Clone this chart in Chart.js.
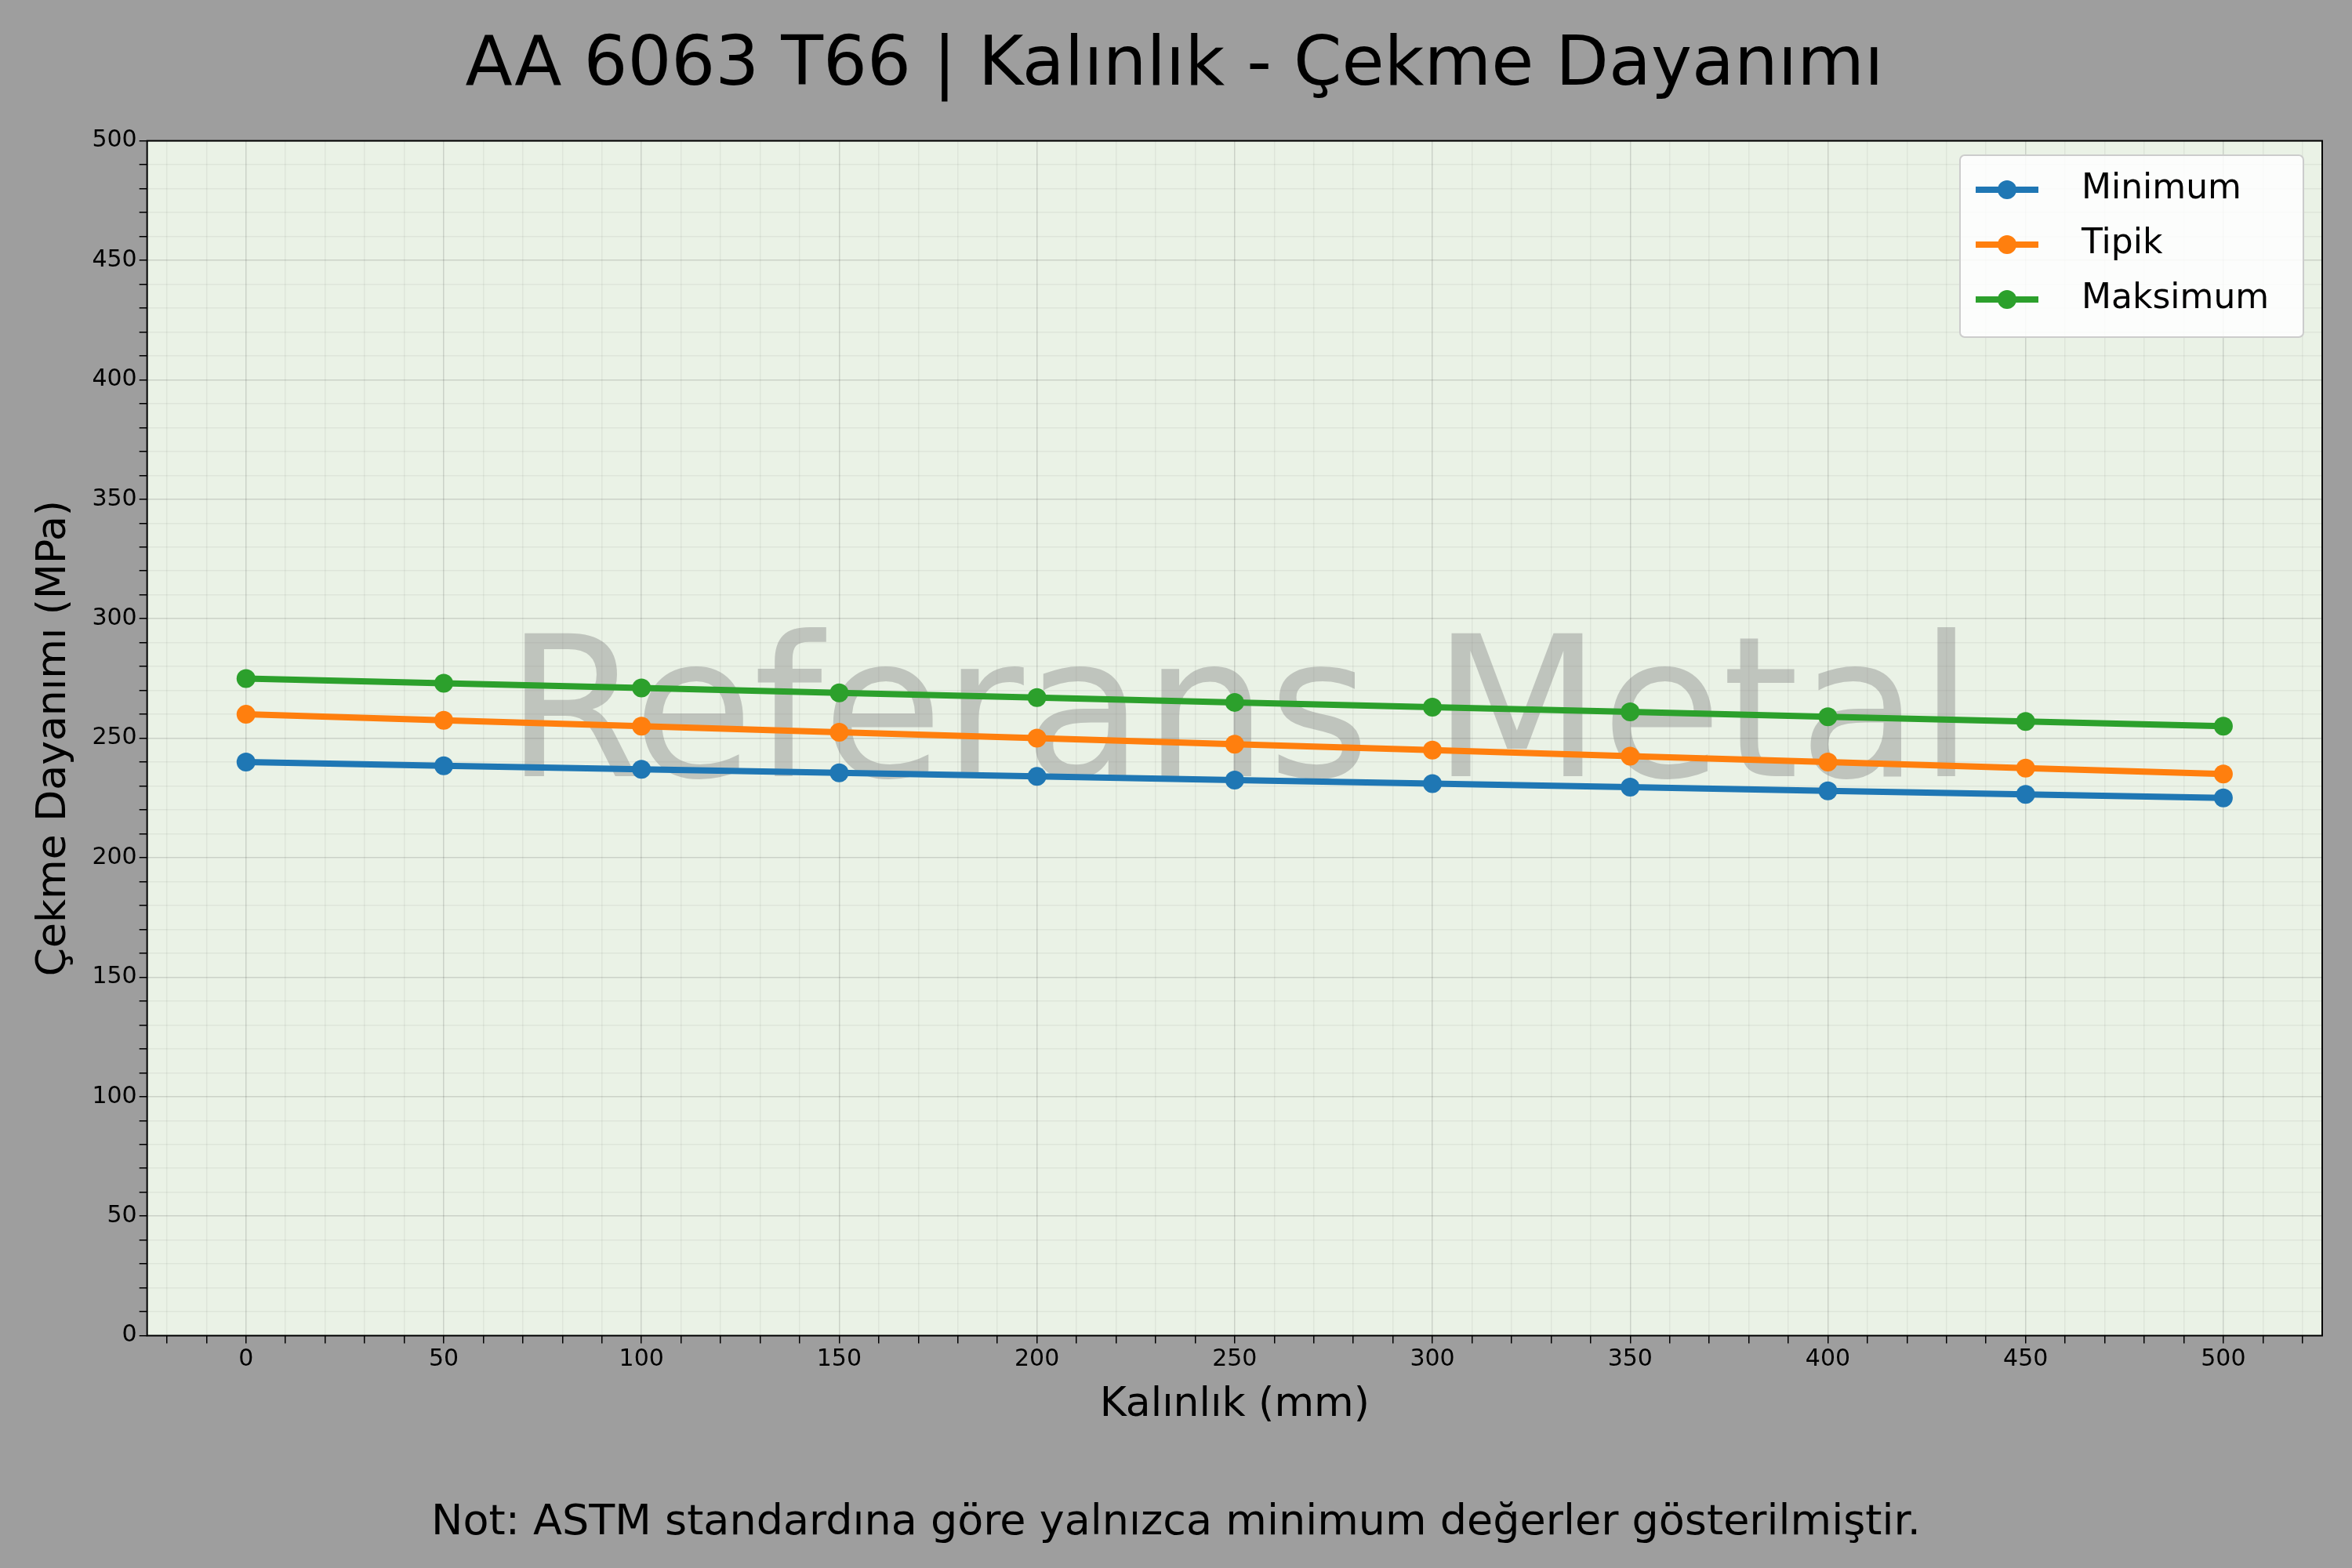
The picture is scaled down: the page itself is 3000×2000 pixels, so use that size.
<!DOCTYPE html>
<html><head><meta charset="utf-8">
<script src="https://cdn.jsdelivr.net/npm/chart.js@4/dist/chart.umd.min.js"></script>
<style>html,body{margin:0;padding:0;background:#9e9e9e}</style>
</head><body>
<canvas id="c" width="3000" height="2000"></canvas>
<script>
const thickness = [0,50,100,150,200,250,300,350,400,450,500];
const minimum = [240,238.5,237,235.5,234,232.5,231,229.5,228,226.5,225];
const tipik = [260,257.5,255,252.5,250,247.5,245,242.5,240,237.5,235];
const maksimum = [275,273,271,269,267,265,263,261,259,257,255];
const seriesNames = ['Minimum','Tipik','Maksimum'];
const colors = ['#1f77b4','#ff7f0e','#2ca02c'];
const FONT = '"DejaVu Sans", sans-serif';

function mk(i, vals){
  return {label: seriesNames[i], data: thickness.map((x,k)=>({x, y: vals[k]})),
    borderColor: colors[i], backgroundColor: colors[i], borderWidth: 8,
    pointRadius: 12, pointHoverRadius: 12, pointBorderWidth: 0, tension: 0};
}

const deco = {
  id: 'deco',
  beforeDraw(chart){
    const {ctx, chartArea: a} = chart;
    ctx.save();
    ctx.fillStyle = '#9e9e9e'; ctx.fillRect(0,0,chart.width,chart.height);
    ctx.fillStyle = '#eaf2e6'; ctx.fillRect(a.left,a.top,a.right-a.left,a.bottom-a.top);
    ctx.restore();
  },
  beforeDatasetsDraw(chart){
    const {ctx, chartArea: a} = chart;
    ctx.save();
    ctx.font = '250px ' + FONT;
    ctx.fillStyle = 'rgba(128,128,128,0.4)';
    ctx.textAlign = 'center'; ctx.textBaseline = 'middle';
    ctx.fillText('Referans Metal', 1581, 925);
    ctx.restore();
  },
  afterDraw(chart){
    const {ctx, chartArea: a} = chart;
    ctx.save();
    ctx.strokeStyle = '#000'; ctx.lineWidth = 2;
    ctx.strokeRect(a.left,a.top,a.right-a.left,a.bottom-a.top);
    const lx = 2500, ly = 198, lw = 438, lh = 232;
    ctx.fillStyle = 'rgba(255,255,255,0.85)';
    ctx.strokeStyle = '#cccccc'; ctx.lineWidth = 2;
    ctx.beginPath(); ctx.roundRect(lx,ly,lw,lh,6); ctx.fill(); ctx.stroke();
    ctx.font = '44px ' + FONT; ctx.textBaseline = 'middle'; ctx.textAlign = 'left';
    for (let i=0;i<3;i++){
      const y = ly + 44 + i*70;
      ctx.strokeStyle = colors[i]; ctx.lineWidth = 8;
      ctx.beginPath(); ctx.moveTo(lx+20,y); ctx.lineTo(lx+100,y); ctx.stroke();
      ctx.fillStyle = colors[i]; ctx.beginPath(); ctx.arc(lx+60,y,12,0,Math.PI*2); ctx.fill();
      ctx.fillStyle = '#000'; ctx.fillText(seriesNames[i], lx+155, y);
    }
    ctx.font = '54px ' + FONT; ctx.textAlign = 'center';
    ctx.fillText('Not: ASTM standardına göre yalnızca minimum değerler gösterilmiştir.', 1500, 1943);
    ctx.restore();
  }
};

function tenTicks(lo, hi){ return function(scale){ const t=[]; for(let v=lo; v<=hi; v+=10) t.push({value:v}); scale.ticks = t; }; }
const gridColor = c => (c.tick && c.tick.value % 50 === 0) ? 'rgba(0,0,0,0.13)' : 'rgba(0,0,0,0.05)';

new Chart(document.getElementById('c'), {
  type: 'line',
  data: { datasets: [mk(0,minimum), mk(1,tipik), mk(2,maksimum)] },
  options: {
    responsive: false, animation: false, devicePixelRatio: 1,
    layout: { padding: { left: 34, right: 38, top: 10, bottom: 172 } },
    plugins: {
      legend: { display: false }, tooltip: { enabled: false },
      title: { display: true, text: 'AA 6063 T66 | Kalınlık - Çekme Dayanımı', color: '#000',
        font: { family: FONT, size: 88, weight: 'normal' }, padding: { top: 22, bottom: 42 } }
    },
    scales: {
      x: { type: 'linear', min: -25, max: 525, afterBuildTicks: tenTicks(-20, 520),
        grid: { color: gridColor, tickColor: '#000', tickLength: 10, lineWidth: 1.5 },
        border: { display: false },
        ticks: { color: '#000', font: { family: FONT, size: 30 }, autoSkip: false, maxRotation: 0,
          callback: v => v % 50 === 0 ? String(v) : '' },
        title: { display: true, text: 'Kalınlık (mm)', color: '#000', font: { family: FONT, size: 52 }, padding: { top: 6 } } },
      y: { min: 0, max: 500, afterBuildTicks: tenTicks(0, 500),
        grid: { color: gridColor, tickColor: '#000', tickLength: 10, lineWidth: 1.5 },
        border: { display: false },
        ticks: { color: '#000', font: { family: FONT, size: 30 }, autoSkip: false,
          callback: v => v % 50 === 0 ? String(v) : '' },
        title: { display: true, text: 'Çekme Dayanımı (MPa)', color: '#000', font: { family: FONT, size: 52 }, padding: { bottom: 14 } } }
    }
  },
  plugins: [deco]
});
</script>
</body></html>
